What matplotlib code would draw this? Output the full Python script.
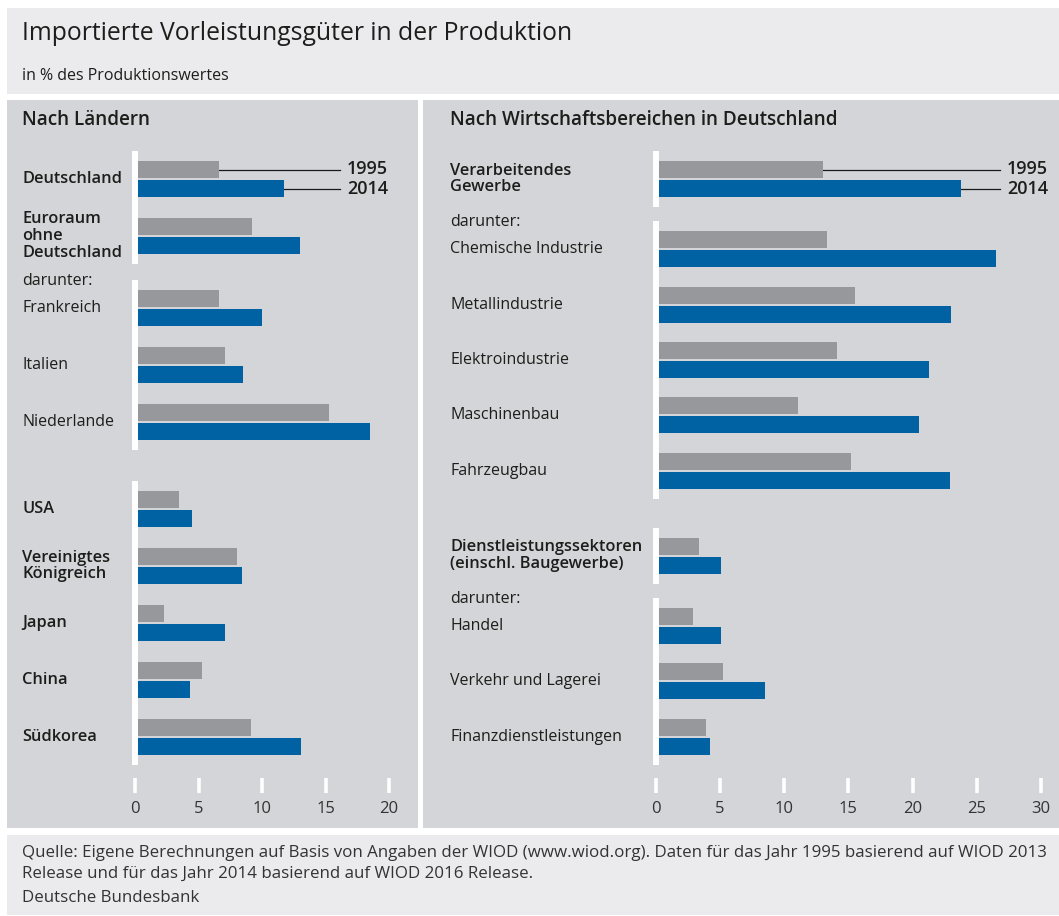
import numpy as np
import matplotlib.pyplot as plt
from matplotlib.patches import Rectangle
from matplotlib import transforms

plt.rcParams['font.family'] = ['Open Sans', 'DejaVu Sans']

W, H = 1059, 916
TXT = '#1d1d1b'
GRAY = '#97989b'
BLUE = '#0062a3'

# --- data -------------------------------------------------------------
country_labels = ['Deutschland', 'Euroraum\nohne\nDeutschland', 'Frankreich', 'Italien',
                  'Niederlande', 'USA', 'Vereinigtes\nKönigreich', 'Japan', 'China', 'Südkorea']
country_bold = [True, True, False, False, False, True, True, True, True, True]
country_1995 = [6.6, 9.2, 6.6, 7.1, 15.3, 3.5, 8.0, 2.3, 5.3, 9.1]
country_2014 = [11.7, 13.0, 10.0, 8.5, 18.5, 4.5, 8.4, 7.1, 4.3, 13.1]
country_blocks = [2, 3, 5]
country_sub = [False, True, False]   # block introduced by "darunter:"

sector_labels = ['Verarbeitendes\nGewerbe', 'Chemische Industrie', 'Metallindustrie',
                 'Elektroindustrie', 'Maschinenbau', 'Fahrzeugbau',
                 'Dienstleistungssektoren\n(einschl. Baugewerbe)', 'Handel',
                 'Verkehr und Lagerei', 'Finanzdienstleistungen']
sector_bold = [True, False, False, False, False, False, True, False, False, False]
sector_1995 = [13.0, 13.3, 15.5, 14.1, 11.1, 15.2, 3.35, 2.9, 5.2, 3.9]
sector_2014 = [23.8, 26.5, 23.0, 21.3, 20.5, 22.9, 5.1, 5.05, 8.5, 4.2]
sector_blocks = [1, 5, 1, 3]
sector_sub = [False, True, False, True]

years = ['1995', '2014']

fig = plt.figure(figsize=(W / 100, H / 100), dpi=100)


def box(x, y, w, h, c):
    fig.add_artist(Rectangle((x / W, 1 - (y + h) / H), w / W, h / H, transform=fig.transFigure,
                             facecolor=c, edgecolor='none', zorder=-1))


def ftext(x, y, s, **kw):
    kw.setdefault('color', TXT)
    kw.setdefault('va', 'center')
    fig.text(x / W, 1 - y / H, s, **kw)


box(7, 8, 1052, 86, '#ebebed')
box(7, 100, 411, 728, '#d4d5d8')
box(423, 100, 636, 728, '#d4d5d8')
box(7, 835, 1052, 80, '#ebebed')

ftext(22, 33, 'Importierte Vorleistungsgüter in der Produktion', fontsize=17.8)
ftext(22, 76, 'in % des Produktionswertes', fontsize=11.5)
ftext(22, 120, 'Nach Ländern', fontsize=13.6, weight='semibold')
ftext(450, 120, 'Nach Wirtschaftsbereichen in Deutschland', fontsize=13.6, weight='semibold')

ftext(22, 853, 'Quelle: Eigene Berechnungen auf Basis von Angaben der WIOD (www.wiod.org). '
      'Daten für das Jahr 1995 basierend auf WIOD 2013', fontsize=12.2, color='#333333')
ftext(22, 874, 'Release und für das Jahr 2014 basierend auf WIOD 2016 Release.',
      fontsize=12.2, color='#333333')
ftext(22, 898, 'Deutsche Bundesbank', fontsize=12.2, color='#333333')


def panel(x0, x1, zero, ppu, slot, xmax, labels, bold, v95, v14, blocks, sub,
          label_x, leader_px):
    # row positions in slot units, extra space between blocks
    pos, spans = [], []
    p = 0.0
    for k, (n, s) in enumerate(zip(blocks, sub)):
        if k > 0:
            p += 1 + (15 if s else 30) / slot
        start = p
        for i in range(n):
            if i > 0:
                p += 1
            pos.append(p)
        spans.append((start, p))
    pos = np.array(pos)

    top, bottom = 140, 778
    ax = fig.add_axes([x0 / W, 1 - bottom / H, (x1 - x0) / W, (bottom - top) / H])
    ax.set_xlim((x0 - zero) / ppu, (x1 - zero) / ppu)
    ax.set_ylim((bottom - 179) / slot, (top - 179) / slot)
    ax.patch.set_visible(False)
    for sp in ax.spines.values():
        sp.set_visible(False)

    h = 17 / slot
    off = 9.5 / slot
    ax.barh(pos - off, v95, height=h, color=GRAY, zorder=2)
    ax.barh(pos + off, v14, height=h, color=BLUE, zorder=2)

    half = 28 / slot
    for (a, b) in spans:
        ax.vlines(0, a - half, b + half, color='white', lw=4.3, zorder=3)

    ax.set_xticks(np.arange(0, xmax + 1, 5))
    ax.set_yticks([])
    ax.tick_params(axis='x', direction='out', length=10.8, width=2.6, color='white',
                   pad=6, labelsize=12, labelcolor='#333333')

    trans = transforms.blended_transform_factory(fig.transFigure, ax.transData)
    for lab, b, y in zip(labels, bold, pos):
        ax.text(label_x / W, y, lab, transform=trans, va='center', ha='left',
                fontsize=11.8 if b else 11.5,
                weight='semibold' if b else 'normal', color=TXT, linespacing=1.08)
    for (a, b), s in zip(spans, sub):
        if s:
            ax.text(label_x / W, a - 27 / slot, 'darunter:', transform=trans, va='center',
                    ha='left', fontsize=11.5, color=TXT)

    # leader lines as legend on the first row
    lx = (leader_px - zero) / ppu
    tx = (leader_px + 7 - zero) / ppu
    for v, y, yr in [(v95[0], pos[0] - off, years[0]), (v14[0], pos[0] + off, years[1])]:
        ax.plot([v, lx], [y, y], color='#1a1a1a', lw=0.9, zorder=1)
        ax.text(tx, y, yr, va='center', ha='left', fontsize=13, weight='semibold', color=TXT)
    return ax


panel(118, 405, 135, 12.7, 57.0, 20, country_labels, country_bold, country_1995,
      country_2014, country_blocks, country_sub, 22, 340)
panel(640, 1052, 656, 12.83, 55.3, 30, sector_labels, sector_bold, sector_1995,
      sector_2014, sector_blocks, sector_sub, 450, 1000)

fig.savefig('out.png', dpi=100)
